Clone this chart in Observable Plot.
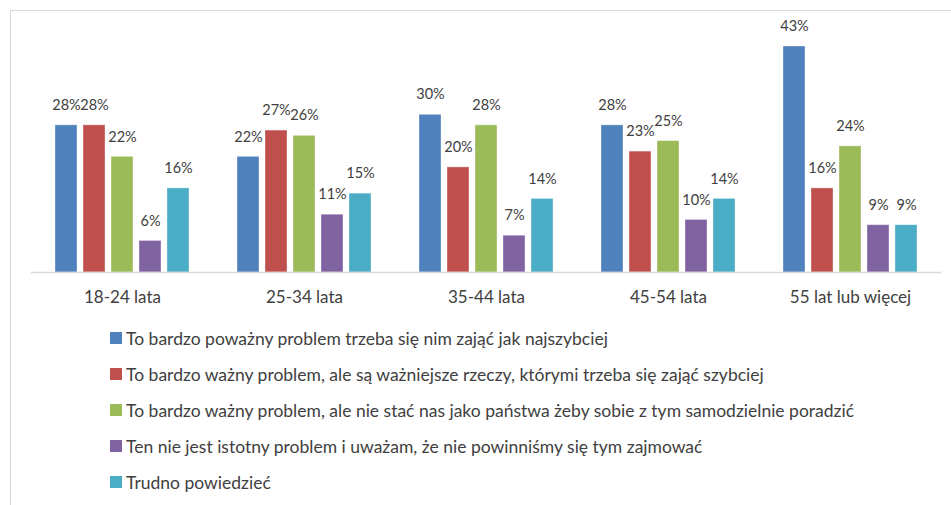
<!DOCTYPE html>
<html>
<head>
<meta charset="utf-8">
<script src="https://cdn.jsdelivr.net/npm/d3@7"></script>
<script src="https://cdn.jsdelivr.net/npm/@observablehq/plot@0.6"></script>
<style>
  html, body { margin: 0; padding: 0; background: #fff; }
  #frame {
    position: absolute; left: 10px; top: 10px; width: 941px; height: 495px;
    border-top: 1px solid #d9d9d9; border-left: 1px solid #d9d9d9; box-sizing: border-box;
  }
  #chart { position: absolute; left: 0; top: 0; }
  #legend { position: absolute; left: 99px; top: 309px; font-family: Lato, sans-serif; font-size: 17.5px; color: #404040; }
  .item { display: flex; align-items: center; height: 36px; white-space: nowrap; }
  .sw { width: 12px; height: 12px; margin-right: 4px; flex: none; }
</style>
</head>
<body>
<div id="frame">
  <div id="chart"></div>
  <div id="legend"></div>
</div>
<script>
const groups = ["18-24 lata", "25-34 lata", "35-44 lata", "45-54 lata", "55 lat lub więcej"];
const seriesNames = [
  "To bardzo poważny problem trzeba się nim zająć jak najszybciej",
  "To bardzo ważny problem, ale są ważniejsze rzeczy, którymi trzeba się zająć szybciej",
  "To bardzo ważny problem, ale nie stać nas jako państwa żeby sobie z tym samodzielnie poradzić",
  "Ten nie jest istotny problem i uważam, że nie powinniśmy się tym zajmować",
  "Trudno powiedzieć"
];
const colors = ["#4F81BD", "#C0504D", "#9BBB59", "#8064A2", "#4BACC6"];
const s1 = [28, 22, 30, 28, 43];
const s2 = [28, 27, 20, 23, 16];
const s3 = [22, 26, 28, 25, 24];
const s4 = [6, 11, 7, 10, 9];
const s5 = [16, 15, 14, 14, 9];
const seriesValues = [s1, s2, s3, s4, s5];

const data = [];
groups.forEach((g, gi) => {
  seriesNames.forEach((s, si) => {
    data.push({group: g, series: s, value: seriesValues[si][gi]});
  });
});

const chart = Plot.plot({
  width: 940,
  height: 300,
  marginTop: 35,
  marginBottom: 39,
  marginLeft: 20,
  marginRight: 10,
  style: {fontFamily: "Lato, sans-serif", color: "#404040", background: "transparent"},
  fx: {domain: groups, padding: 0, label: null},
  x: {domain: seriesNames, axis: null, paddingInner: 6/28, paddingOuter: 0.857},
  y: {domain: [0, 43], axis: null},
  color: {domain: seriesNames, range: colors},
  marks: [
    Plot.barY(data, {fx: "group", x: "series", y: "value", fill: "series", stroke: "#ffffff", strokeOpacity: 0.35, strokeWidth: 1}),
    Plot.ruleY([0], {stroke: "#d9d9d9", strokeWidth: 1.5}),
    Plot.text(data, {fx: "group", x: "series", y: "value", text: d => d.value + "%", dy: -20, fontSize: 14.5, fill: "#404040"}),
    Plot.axisFx({anchor: "bottom", tickSize: 0, tickPadding: 18, fontSize: 17, label: null})
  ]
});
document.getElementById("chart").appendChild(chart);

const legend = document.getElementById("legend");
seriesNames.forEach((s, i) => {
  const item = document.createElement("div");
  item.className = "item";
  const sw = document.createElement("span");
  sw.className = "sw";
  sw.style.background = colors[i];
  const t = document.createElement("span");
  t.textContent = s;
  item.appendChild(sw);
  item.appendChild(t);
  legend.appendChild(item);
});
</script>
</body>
</html>
